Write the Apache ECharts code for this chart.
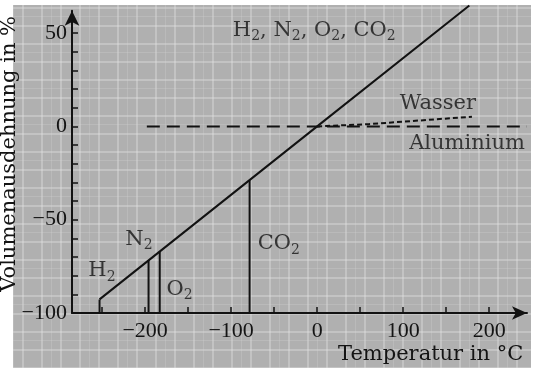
<!DOCTYPE html>
<html>
<head>
<meta charset="utf-8">
<script src="https://cdn.jsdelivr.net/npm/echarts@6/dist/echarts.min.js"></script>
<style>html,body{margin:0;padding:0;background:#fff}#c{width:539px;height:368px}</style>
</head>
<body>
<div id="c"></div>
<script>
// ---- data ----
const xTickValues = [-250, -200, -150, -100, -50, 0, 50, 100, 150, 200];
const xLabelValues = [-200, -100, 0, 100, 200];
const yTickValues = [-100, -90, -80, -70, -60, -50, -40, -30, -20, -10, 0, 10, 20, 30, 40, 50];
const yLabelValues = [-100, -50, 0, 50];

// ideal gas line (Volumenausdehnung = T / 273 * 100 %)
const gasT = [-253, 0, 177];
const gasV = [-92.7, 0, 64.8];

// boiling / sublimation points of the gases
const gasNames = ['H2', 'N2', 'O2', 'CO2'];
const boilT = [-253, -196, -183, -78.5];
const boilV = [-92.7, -71.8, -67.0, -28.8];

// Aluminium (dashed, nearly zero)
const alT = [-198, 244];
const alV = [0, 0];

// Wasser (short dashes)
const waterT = [0, 60, 120, 180];
const waterV = [0, 1.2, 3.2, 5.2];

// text annotations (left edge, vertical centre)
const noteText = ['{t|H}{s|2}{t|, N}{s|2}{t|, O}{s|2}{t|, CO}{s|2}', '{t|Wasser}', '{t|Aluminium}',
                  '{t|N}{s|2}', '{t|H}{s|2}', '{t|O}{s|2}', '{t|CO}{s|2}'];
const noteT = [-98, 96, 107, -223, -266, -175, -69];
const noteV = [51.5, 12.4, -9.0, -60.5, -77.5, -87.5, -63.0];

const xName = 'Temperatur in °C';
const yName = 'Volumenausdehnung in %';

// ---- chart ----
const fmt = v => v < 0 ? '\u2212' + (-v) : String(v);
const ink = '#121212';
const textInk = '#141414';
const numFont = {fontFamily: 'Liberation Serif', fontSize: 22, color: textInk};
const txtFont = 'DejaVu Serif';

// decorative paper texture
const tile = document.createElement('canvas');
tile.width = 38; tile.height = 36;
const g = tile.getContext('2d');
g.fillStyle = '#b0b0b0'; g.fillRect(0, 0, 38, 36);
g.fillStyle = 'rgba(225,225,225,0.40)';
g.fillRect(3, 0, 2, 36); g.fillRect(22, 0, 2, 36);
g.fillRect(0, 7, 38, 2); g.fillRect(0, 25, 38, 2);
g.fillStyle = 'rgba(215,215,215,0.25)';
g.fillRect(13, 0, 1, 36); g.fillRect(0, 16, 38, 1);

const series = [];
series.push({
  type: 'line', data: gasT.map((t, i) => [t, gasV[i]]), showSymbol: false, clip: false,
  lineStyle: {color: ink, width: 2}, z: 5
});
gasNames.forEach((n, i) => {
  series.push({
    type: 'line', name: n, data: [[boilT[i], -100], [boilT[i], boilV[i]]], showSymbol: false,
    lineStyle: {color: ink, width: 2}, z: 5
  });
});
series.push({
  type: 'line', name: 'Aluminium', data: alT.map((t, i) => [t, alV[i]]), showSymbol: false,
  lineStyle: {color: ink, width: 2, type: [13, 7]}, z: 4
});
series.push({
  type: 'line', name: 'Wasser', data: waterT.map((t, i) => [t, waterV[i]]), showSymbol: false,
  smooth: false, lineStyle: {color: ink, width: 2, type: [5, 3]}, z: 4
});
series.push({
  type: 'scatter', symbolSize: 0, silent: true, z: 6,
  data: noteT.map((t, i) => ({value: [t, noteV[i]], label: {formatter: noteText[i]}})),
  label: {
    show: true, position: 'right', distance: 0,
    rich: {
      t: {fontFamily: txtFont, fontSize: 21, color: textInk, lineHeight: 26},
      s: {fontFamily: txtFont, fontSize: 14, color: textInk, lineHeight: 14, verticalAlign: 'bottom'}
    }
  }
});

const chart = echarts.init(document.getElementById('c'), null, {renderer: 'canvas'});
chart.setOption({
  animation: false,
  backgroundColor: '#ffffff',
  graphic: [{
    type: 'rect', z: -10, silent: true,
    shape: {x: 13, y: 5, width: 518, height: 363},
    style: {fill: {image: tile, repeat: 'repeat'}}
  }],
  grid: {left: 72, right: 12, top: 10.7, bottom: 55, containLabel: false, outerBoundsMode: 'none'},
  xAxis: {
    type: 'value', min: -285, max: 244,
    name: xName, nameLocation: 'end', nameGap: -189, nameMoveOverlap: false,
    nameTextStyle: {fontFamily: txtFont, fontSize: 21, color: textInk, align: 'left', verticalAlign: 'top', padding: [31, 0, 0, 0]},
    axisLine: {onZero: false, lineStyle: {color: ink, width: 2}, symbol: ['none', 'arrow'], symbolSize: [10, 15]},
    axisTick: {inside: true, length: 6, customValues: xTickValues, lineStyle: {color: ink, width: 1.5}},
    axisLabel: Object.assign({customValues: xLabelValues, formatter: fmt, margin: 7}, numFont),
    splitLine: {show: false}
  },
  yAxis: {
    type: 'value', min: -100, max: 62,
    name: yName, nameLocation: 'middle', nameGap: 52, nameRotate: 90, nameMoveOverlap: false,
    nameTextStyle: {fontFamily: txtFont, fontSize: 21, color: textInk, padding: [0, 0, 0, 16]},
    axisLine: {onZero: false, lineStyle: {color: ink, width: 2}, symbol: ['none', 'arrow'], symbolSize: [11, 15]},
    axisTick: {inside: true, length: 6, customValues: yTickValues, lineStyle: {color: ink, width: 1.5}},
    axisLabel: Object.assign({customValues: yLabelValues, formatter: fmt, margin: 5}, numFont),
    splitLine: {show: false}
  },
  series: series
});
</script>
</body>
</html>
